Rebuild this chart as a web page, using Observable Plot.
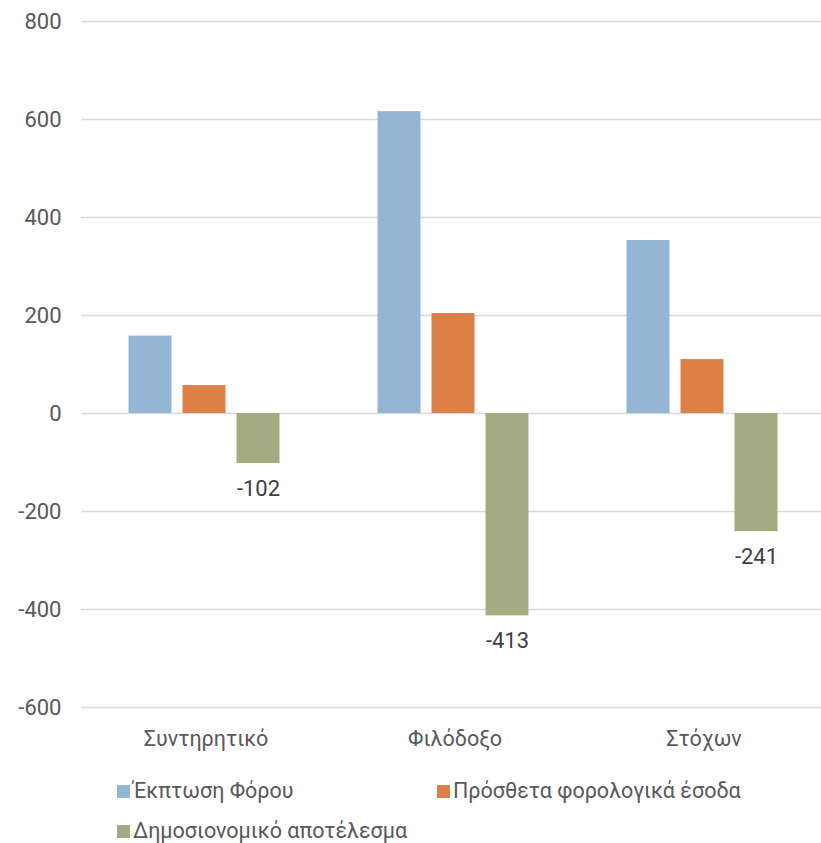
<!DOCTYPE html>
<html>
<head>
<meta charset="utf-8">
<script src="https://cdn.jsdelivr.net/npm/d3@7"></script>
<script src="https://cdn.jsdelivr.net/npm/@observablehq/plot@0.6"></script>
<style>
  html, body { margin: 0; padding: 0; background: #fff; overflow: hidden; }
  #chart { width: 821px; overflow: hidden; }
  #chart svg { display: block; max-width: none !important; }
  .legend { position: relative; width: 821px; height: 76px; font-family: Roboto, "Noto Sans", sans-serif; font-size: 21.5px; color: #595959; }
  .item { position: absolute; display: flex; align-items: center; white-space: nowrap; line-height: 26px; }
  .sw { width: 13px; height: 13px; margin-right: 3px; }
</style>
</head>
<body>
<div id="chart"></div>
<div class="legend" id="legend"></div>
<script>
const categories = ["Συντηρητικό", "Φιλόδοξο", "Στόχων"];
const seriesNames = ["Έκπτωση Φόρου", "Πρόσθετα φορολογικά έσοδα", "Δημοσιονομικό αποτέλεσμα"];
const taxCut = [158, 616, 353];
const extraRevenue = [57, 204, 110];
const fiscalResult = [-102, -413, -241];
const colors = ["#94b5d4", "#dd8047", "#a5ab81"];
const yTicks = [-600, -400, -200, 0, 200, 400, 600, 800];

const seriesValues = [taxCut, extraRevenue, fiscalResult];
const data = [];
categories.forEach((c, i) => {
  seriesNames.forEach((s, j) => data.push({category: c, series: s, value: seriesValues[j][i]}));
});
const labelData = data.filter(d => d.series === seriesNames[2]);

const font = "Roboto, 'Noto Sans', sans-serif";

const chart = Plot.plot({
  width: 829,
  height: 767,
  marginTop: 21,
  marginBottom: 60,
  marginLeft: 80.5,
  marginRight: 0,
  style: {fontFamily: font, fontSize: "22px", color: "#595959", background: "#fff"},
  fx: {domain: categories, padding: 0, label: null},
  x: {domain: seriesNames, paddingInner: 0.21, paddingOuter: 0.873, align: 0.484, axis: null},
  y: {domain: [-600, 800], label: null},
  color: {domain: seriesNames, range: colors},
  marks: [
    Plot.ruleY(yTicks, {stroke: "#d9d9d9", strokeWidth: 1.5}),
    Plot.barY(data, {fx: "category", x: "series", y: "value", fill: "series"}),
    Plot.text(labelData, {fx: "category", x: "series", y: "value", text: d => String(d.value), dy: 25, fill: "#404040", fontSize: 22}),
    Plot.axisY({ticks: yTicks, tickSize: 0, tickPadding: 20, tickFormat: d => String(d), fill: "#595959", fontSize: 22, label: null}),
    Plot.axisFx({anchor: "bottom", tickSize: 0, tickPadding: 23, fill: "#595959", fontSize: 21.5, label: null})
  ]
});
document.getElementById("chart").appendChild(chart);

const legend = document.getElementById("legend");
const positions = [[117, 11], [437, 11], [117, 51]];
seriesNames.forEach((s, i) => {
  const it = document.createElement("div");
  it.className = "item";
  it.style.left = positions[i][0] + "px";
  it.style.top = positions[i][1] + "px";
  const sw = document.createElement("span");
  sw.className = "sw";
  sw.style.background = colors[i];
  const tx = document.createElement("span");
  tx.textContent = s;
  it.appendChild(sw);
  it.appendChild(tx);
  legend.appendChild(it);
});
</script>
</body>
</html>
